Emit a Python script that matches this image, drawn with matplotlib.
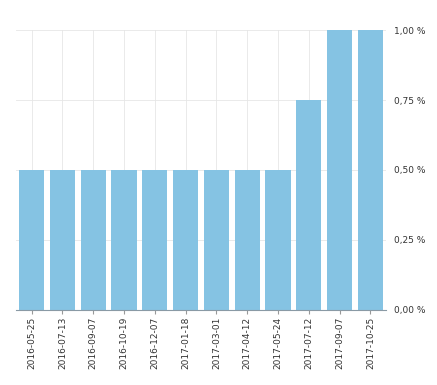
import matplotlib
matplotlib.use("Agg")
import matplotlib.pyplot as plt
from matplotlib.ticker import FuncFormatter

dates = ["2016-05-25", "2016-07-13", "2016-09-07", "2016-10-19", "2016-12-07", "2017-01-18",
         "2017-03-01", "2017-04-12", "2017-05-24", "2017-07-12", "2017-09-07", "2017-10-25"]
values = [0.50, 0.50, 0.50, 0.50, 0.50, 0.50, 0.50, 0.50, 0.50, 0.75, 1.00, 1.00]
yticks = [0.0, 0.25, 0.5, 0.75, 1.0]

fig = plt.figure(figsize=(4.37, 3.85), dpi=100)
ax = fig.add_axes([0.037, 0.195, 0.846, 0.727])
x = list(range(len(dates)))
ax.bar(x, values, width=0.82, color="#85c3e3", zorder=2)
ax.set_xlim(-0.5, len(dates) - 0.5)
ax.set_ylim(0, 1.0)
ax.set_yticks(yticks)
ax.yaxis.set_major_formatter(FuncFormatter(lambda v, p: f"{v:.2f} %".replace(".", ",")))
ax.yaxis.tick_right()
ax.set_xticks(x)
ax.set_xticklabels(dates, rotation=90, fontsize=6.5, color="#333333")
ax.tick_params(axis="y", length=0, labelsize=6.5, labelcolor="#333333", pad=6)
ax.tick_params(axis="x", length=3, color="#999999", pad=2)
ax.grid(True, color="#e6e6e6", linewidth=0.6, zorder=3)
for s in ["top", "left", "right"]:
    ax.spines[s].set_visible(False)
ax.spines["bottom"].set_color("#8a9aa5")
ax.spines["bottom"].set_zorder(4)
fig.savefig("out.png", dpi=100)
